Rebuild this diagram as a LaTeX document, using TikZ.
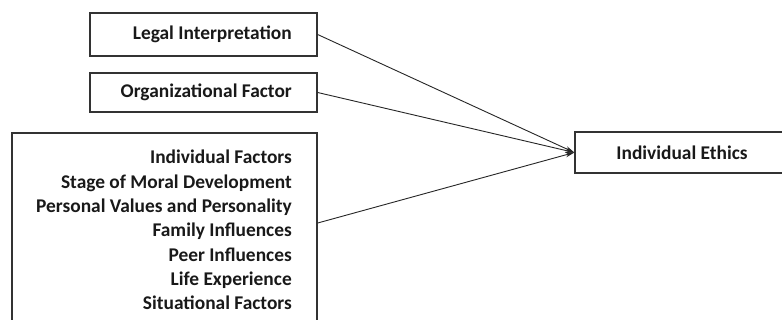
\documentclass[tikz,border=0pt]{standalone}
\usepackage{fontspec}
\setmainfont{Carlito}
\usetikzlibrary{arrows.meta,calc}
\begin{document}
\begin{tikzpicture}[x=1pt,y=-1pt,
  box/.style={draw=black!80,line width=1.3pt,rectangle,inner sep=0pt},
  lbl/.style={font=\fontsize{19.4}{24.3}\selectfont\bfseries,text=black!90,inner sep=0pt},
  conn/.style={draw=black!85,line width=0.9pt,-{Stealth[length=9pt,width=5pt]}}]
\clip (0,0) rectangle (782,320);
\fill[white] (0,0) rectangle (782,320);
\node[box,minimum width=227pt,minimum height=43pt] (legal) at (203.5,34.5) {};
\node[lbl,anchor=east] (legalt) at (292,34.5) {Legal Interpretation};
\node[box,minimum width=227pt,minimum height=39pt] (org) at (203.5,92.5) {};
\node[lbl,anchor=east] (orgt) at (292,92.5) {Organizational Factor};
\node[box,minimum width=305pt,minimum height=202pt] (ind) at (164.5,234) {};
\node[lbl,anchor=north east,align=right] (indt) at (292,150) {Individual Factors\\Stage of Moral Development\\Personal Values and Personality\\Family Influences\\Peer Influences\\Life Experience\\Situational Factors};
\node[box,minimum width=214pt,minimum height=41pt,lbl] (eth) at (682,152.5) {Individual Ethics};
\draw[conn] (legal.east) -- (eth.west);
\draw[conn] (org.east) -- (eth.west);
\draw[conn] ($(ind.north east)!0.446!(ind.south east)$) -- (eth.west);
\end{tikzpicture}
\end{document}
